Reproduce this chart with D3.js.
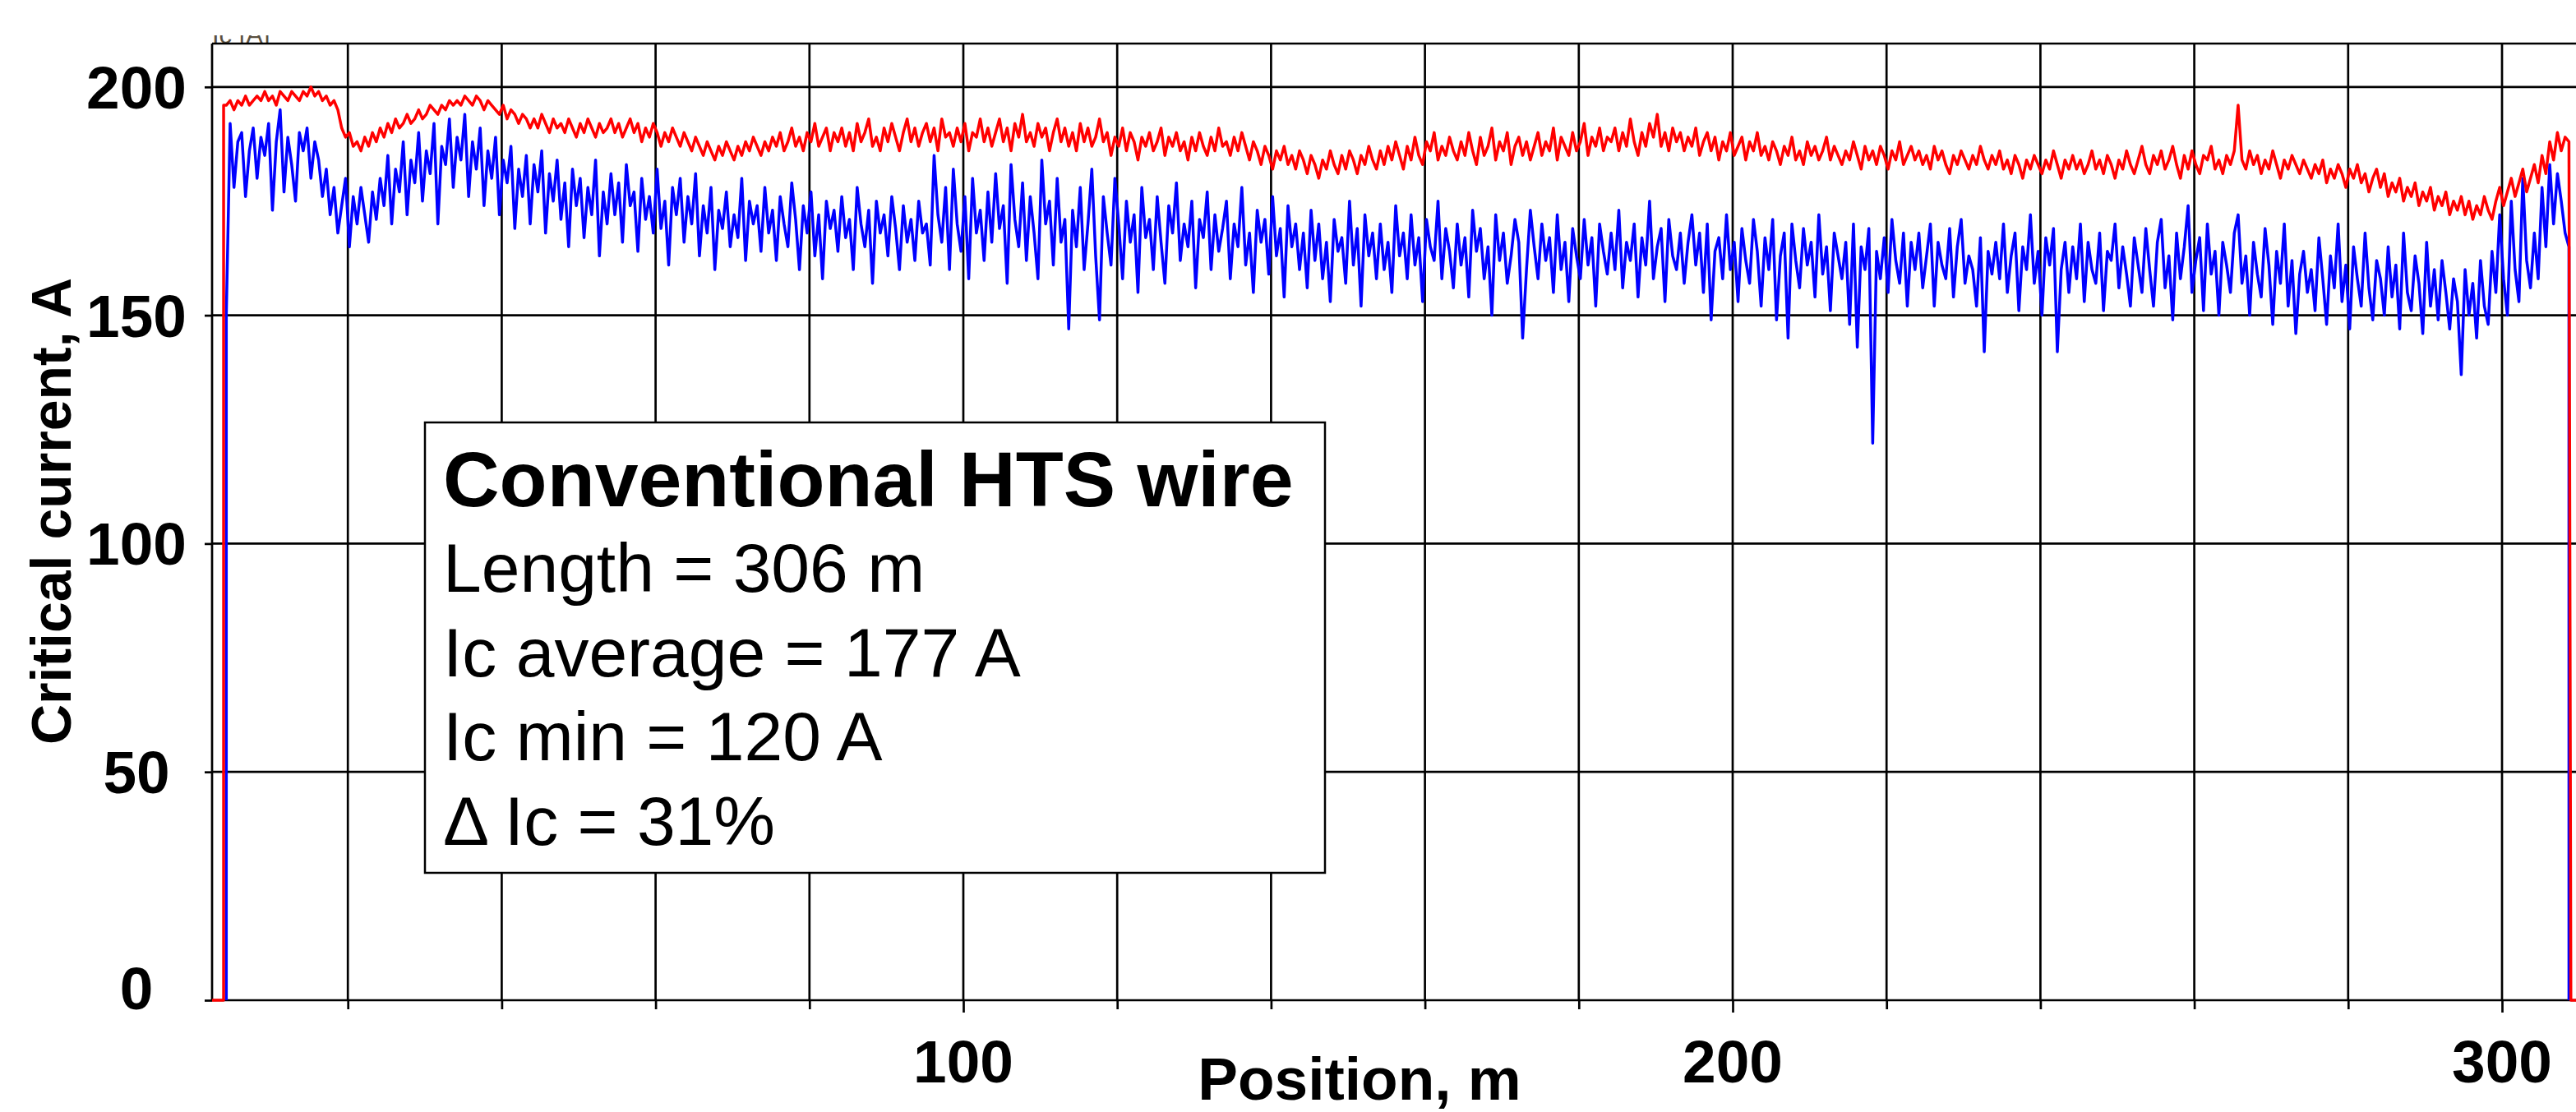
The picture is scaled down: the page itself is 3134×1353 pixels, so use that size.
<!DOCTYPE html>
<html>
<head>
<meta charset="utf-8">
<script src="https://cdn.jsdelivr.net/npm/d3@7"></script>
<style>
  body { margin: 0; background: #fff; }
  text { font-family: "Liberation Sans", Arial, sans-serif; }
</style>
</head>
<body>
<div id="chart"></div>
<script>
// Ic along the tape, one reading every 0.5 m
const sampleStart = 4.2;
const sampleStep = 0.5;

const redIc = [
  196,197,195,197,196, 198,196,197,198,197, 199,197,198,196,199, 198,197,199,198,197,
  199,198,200,198,199, 197,198,196,197,195, 191,189,190,187,188, 186,189,187,190,188,
  191,189,192,190,193, 191,192,194,192,193, 195,193,194,196,195, 194,196,195,197,196,
  197,196,198,197,196, 198,197,195,197,196, 195,194,196,193,195, 194,192,194,193,191,
  193,191,194,192,190, 193,191,192,190,193, 191,189,192,190,193, 191,189,192,190,191,
  193,190,192,189,191, 193,190,192,188,191, 189,192,190,187,190, 188,191,189,187,190,
  188,186,189,187,185, 188,186,184,187,185, 188,186,184,187,185, 188,186,189,187,185,
  188,186,189,187,190, 186,188,191,187,189, 186,190,188,192,187, 189,191,186,190,188,
  191,187,190,186,192, 188,190,193,187,189, 186,191,188,192,189, 186,190,193,188,191,
  187,190,192,188,191, 186,193,189,190,187, 191,188,192,186,190, 189,193,188,191,187,
  190,193,188,191,186, 192,189,194,188,190, 187,192,189,191,186, 190,193,188,191,187,
  190,186,192,188,191, 187,189,193,188,190, 185,189,187,191,186, 190,188,184,189,187,
  190,186,188,191,185, 189,187,190,186,188, 184,189,186,190,187, 185,189,186,191,187,
  188,185,189,186,190, 187,184,188,186,183, 187,185,182,186,184, 187,183,185,182,186,
  184,181,185,183,180, 184,182,186,183,181, 185,182,186,184,181, 185,183,187,184,182,
  186,183,187,184,188, 185,182,187,184,189, 185,183,188,186,190, 184,187,185,189,186,
  184,188,185,190,186, 183,189,185,187,191, 184,188,186,190,183, 187,189,185,188,184,
  187,190,185,188,186, 191,184,189,187,185, 190,186,188,192,185, 189,187,191,186,189,
  188,191,186,190,187, 193,188,185,190,187, 192,189,194,187,190, 186,191,188,190,186,
  189,187,191,185,188, 190,186,189,184,188, 186,190,185,187,189, 184,188,186,190,185,
  187,184,188,186,183, 187,185,189,184,186, 183,188,185,187,184, 186,189,184,187,185,
  183,186,184,188,185, 182,187,184,186,183, 187,185,182,186,184, 188,183,185,187,184,
  186,183,185,182,187, 184,186,183,181,185, 183,186,184,182,185, 183,187,184,182,185,
  183,186,182,184,181, 185,183,180,184,182, 185,183,181,184,182, 186,183,180,184,182,
  185,182,184,181,183, 186,182,184,181,185, 183,180,184,182,186, 183,181,184,187,183,
  181,185,183,186,182, 184,187,183,180,185, 182,186,183,181,185, 184,187,182,184,181,
  185,183,186,196,184, 182,186,183,185,181, 184,182,186,183,180, 184,182,185,183,181,
  184,182,180,183,181, 184,179,182,180,183, 181,178,182,180,183, 179,181,177,180,182,
  178,181,176,179,177, 180,175,178,176,179, 174,177,175,178,173, 176,174,177,172,175,
  173,176,172,175,171, 174,172,176,173,171, 175,178,174,177,180, 176,179,182,177,180,
  183,179,185,181,188, 184,190,186,189,188
];

const blueIc = [
  150,192,178,188,190, 176,186,191,180,189, 185,192,173,188,195, 177,189,183,175,190,
  186,191,180,188,184, 176,182,172,178,168, 174,180,165,176,170, 178,172,166,177,171,
  180,174,185,170,182, 177,188,172,184,179, 190,175,186,181,192, 170,187,183,193,178,
  189,184,194,176,188, 182,191,174,186,180, 189,172,184,179,187, 169,182,176,185,170,
  183,177,186,168,181, 175,184,171,179,165, 182,174,180,167,178, 172,184,163,177,170,
  181,172,179,166,183, 174,177,164,180,171, 176,168,182,169,175, 161,178,172,180,166,
  176,170,181,163,174, 168,178,160,173,169, 177,165,172,167,180, 162,175,170,174,164,
  178,168,173,162,176, 170,165,179,171,160, 174,168,177,163,172, 158,175,169,173,164,
  176,167,171,160,178, 170,165,173,157,175, 168,172,163,176,169, 160,174,166,171,162,
  175,168,170,161,185, 172,166,178,160,182, 170,164,176,158,180, 168,173,162,177,166,
  181,169,174,157,183, 171,165,179,162,176, 168,158,184,170,175, 161,180,166,171,147,
  173,165,178,160,170, 182,163,149,176,168, 161,180,170,158,175, 166,172,155,178,167,
  171,160,176,166,157, 174,168,179,162,170, 165,175,156,171,167, 177,160,172,164,169,
  175,158,170,165,178, 161,168,155,173,166, 171,159,176,163,169, 154,174,165,170,160,
  168,156,173,162,170, 158,166,153,171,164, 167,157,175,161,169, 152,172,163,168,158,
  170,160,166,155,174, 163,168,158,172,161, 167,153,171,165,162, 175,158,169,164,156,
  170,161,167,154,173, 164,169,158,165,150, 172,162,168,157,163, 171,166,145,160,173,
  165,158,170,162,167, 155,172,160,166,153, 169,163,158,171,161, 167,152,170,164,159,
  168,160,173,156,166, 162,170,154,167,161, 175,158,165,169,153, 171,163,160,168,157,
  166,172,161,168,155, 170,149,164,167,158, 172,160,166,153,169, 162,157,171,164,152,
  167,160,171,149,163, 168,145,170,162,156, 169,161,166,154,172, 159,165,151,168,163,
  158,166,148,170,143, 165,160,169,122,164, 158,167,155,171,162, 157,168,152,166,160,
  168,156,163,170,152, 166,161,158,169,154, 165,171,157,163,160, 152,167,142,164,159,
  166,158,170,155,163, 168,151,165,160,172, 157,164,150,167,161, 169,142,160,166,155,
  165,158,170,153,166, 160,157,168,151,164, 162,170,156,165,159, 152,167,161,155,169,
  160,152,166,171,156, 163,149,168,158,165, 174,155,162,167,151, 170,159,164,150,166,
  161,155,168,172,157, 163,150,166,159,154, 169,161,148,164,157, 170,152,162,146,159,
  164,155,160,151,167, 158,148,163,156,170, 153,161,147,165,158, 152,168,156,149,162,
  158,150,165,154,161, 147,168,155,151,163, 157,146,166,152,160, 149,162,155,147,158,
  153,137,160,150,157, 145,162,152,148,164, 155,172,158,150,175, 160,153,180,162,156,
  168,158,178,165,183, 170,181,175,168,165
];

// zero readings where the tape enters and leaves the rig
const redLead = [[2.35, 0], [3.85, 0], [3.85, 196]];
const redTail = [[308.95, 0], [312, 0]];
const blueLead = [[4.2, 0]];
const blueTail = [[308.7, 0]];

const yTicks = [0, 50, 100, 150, 200];
const xGrid = [20, 40, 60, 80, 100, 120, 140, 160, 180, 200, 220, 240, 260, 280, 300];
const xLabels = [100, 200, 300];

const infoTitle = 'Conventional HTS wire';
const infoLines = ['Length = 306 m', 'Ic average = 177 A', 'Ic min = 120 A', 'Δ Ic = 31%'];

const width = 3134, height = 1353;
const plotLeft = 258, plotTop = 53, plotBottom = 1217, plotRight = 3140;

const x = d3.scaleLinear().domain([0, 310]).range([236, 236 + 310 * 9.36]);
const y = d3.scaleLinear().domain([0, 209.5]).range([plotBottom, plotTop]);

const svg = d3.select('#chart')
  .append('svg')
  .attr('width', width)
  .attr('height', height)
  .style('display', 'block')
  .style('background', '#fff');

// clipped stub of a caption sitting above the frame
svg.append('clipPath').attr('id', 'capclip')
  .append('rect').attr('x', 0).attr('y', 43).attr('width', 600).attr('height', 9);
svg.append('text')
  .attr('clip-path', 'url(#capclip)')
  .attr('x', 258).attr('y', 53)
  .style('font-size', '31px')
  .style('fill', '#5a5040')
  .text('Ic [A]');

// grid
svg.append('g')
  .selectAll('line')
  .data(yTicks.filter(d => d > 0))
  .enter()
  .append('line')
  .attr('x1', plotLeft).attr('x2', plotRight)
  .attr('y1', d => y(d)).attr('y2', d => y(d))
  .attr('stroke', '#000').attr('stroke-width', 2.7);

svg.append('g')
  .selectAll('line')
  .data(xGrid)
  .enter()
  .append('line')
  .attr('x1', d => x(d)).attr('x2', d => x(d))
  .attr('y1', plotTop).attr('y2', plotBottom)
  .attr('stroke', '#000').attr('stroke-width', 2.7);

// frame
svg.append('line')
  .attr('x1', plotLeft).attr('x2', plotRight)
  .attr('y1', plotTop).attr('y2', plotTop)
  .attr('stroke', '#000').attr('stroke-width', 2.7);
svg.append('line')
  .attr('x1', plotLeft).attr('x2', plotLeft)
  .attr('y1', plotTop).attr('y2', plotBottom)
  .attr('stroke', '#000').attr('stroke-width', 2.7);
svg.append('line')
  .attr('x1', plotLeft).attr('x2', plotRight)
  .attr('y1', plotBottom).attr('y2', plotBottom)
  .attr('stroke', '#000').attr('stroke-width', 2.7);

// axes (ticks only, labels placed below)
const yAxis = svg.append('g')
  .attr('transform', `translate(${plotLeft},0)`)
  .call(d3.axisLeft(y).tickValues(yTicks).tickSize(9).tickSizeOuter(0).tickFormat(''));
yAxis.select('.domain').remove();
yAxis.selectAll('.tick line').attr('stroke', '#000').attr('stroke-width', 2.7);

const xAxis = svg.append('g')
  .attr('transform', `translate(0,${plotBottom})`)
  .call(d3.axisBottom(x).tickValues(xGrid).tickSize(11).tickSizeOuter(0).tickFormat(''));
xAxis.select('.domain').remove();
xAxis.selectAll('.tick line')
  .attr('y2', d => xLabels.includes(d) ? 15 : 11)
  .attr('stroke', '#000').attr('stroke-width', 2.7);

svg.append('g')
  .selectAll('text')
  .data(yTicks)
  .enter()
  .append('text')
  .attr('x', 166)
  .attr('y', d => y(d) + (d === 0 ? 11 : 26))
  .attr('text-anchor', 'middle')
  .style('font-size', '73px')
  .style('font-weight', 'bold')
  .text(d => d);

svg.append('g')
  .selectAll('text')
  .data(xLabels)
  .enter()
  .append('text')
  .attr('x', d => x(d))
  .attr('y', 1317)
  .attr('text-anchor', 'middle')
  .style('font-size', '73px')
  .style('font-weight', 'bold')
  .text(d => d);

svg.append('text')
  .attr('x', 1654).attr('y', 1338)
  .attr('text-anchor', 'middle')
  .style('font-size', '73px')
  .style('font-weight', 'bold')
  .text('Position, m');

svg.append('text')
  .attr('transform', 'translate(86,622) rotate(-90)')
  .attr('text-anchor', 'middle')
  .style('font-size', '68px')
  .style('font-weight', 'bold')
  .text('Critical current, A');

// traces
const line = d3.line().x(d => x(d[0])).y(d => y(d[1]));
const toPoints = vals => vals.map((v, i) => [sampleStart + i * sampleStep, v]);

const redPts = redLead.concat(toPoints(redIc), redTail);
const bluePts = blueLead.concat(toPoints(blueIc), blueTail);

svg.append('path')
  .datum(bluePts)
  .attr('d', line)
  .attr('fill', 'none')
  .attr('stroke', '#0000ff')
  .attr('stroke-width', 3.5)
  .attr('stroke-linejoin', 'round');

svg.append('path')
  .datum(redPts)
  .attr('d', line)
  .attr('fill', 'none')
  .attr('stroke', '#ff0000')
  .attr('stroke-width', 3.5)
  .attr('stroke-linejoin', 'round');

// info box
const box = svg.append('g');
box.append('rect')
  .attr('x', 517).attr('y', 514)
  .attr('width', 1095).attr('height', 548)
  .attr('fill', '#fff')
  .attr('stroke', '#000')
  .attr('stroke-width', 2.5);

box.append('text')
  .attr('x', 539).attr('y', 616)
  .style('font-size', '95px')
  .style('font-weight', 'bold')
  .text(infoTitle);

box.selectAll('.info-line')
  .data(infoLines)
  .enter()
  .append('text')
  .attr('class', 'info-line')
  .attr('x', 539)
  .attr('y', (d, i) => 720 + i * 102.5)
  .style('font-size', '84px')
  .text(d => d);
</script>
</body>
</html>
